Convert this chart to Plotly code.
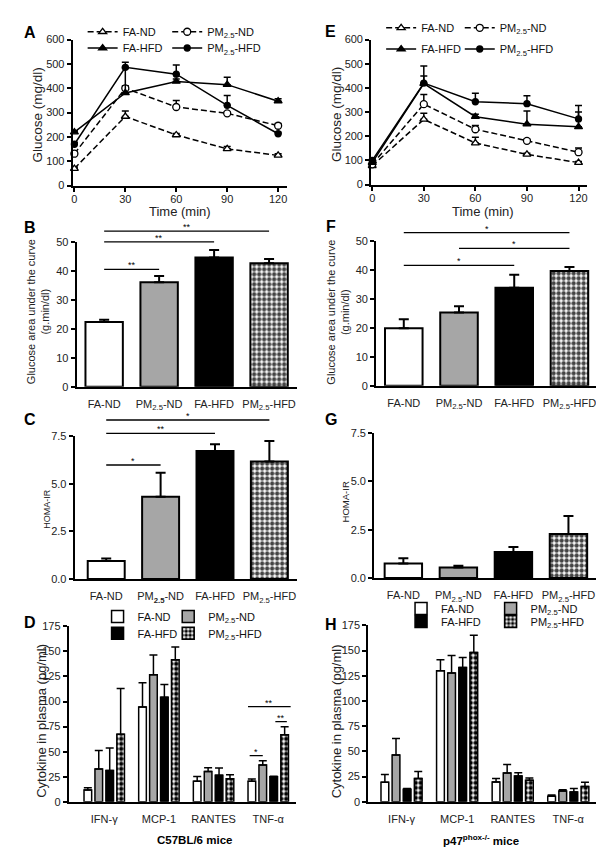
import plotly.graph_objects as go

W, H = 604, 860
FONT = "Liberation Sans, Arial, sans-serif"

# ---------------- data ----------------
times = [0, 30, 60, 90, 120]
groups = ["FA-ND", "PM<sub>2.5</sub>-ND", "FA-HFD", "PM<sub>2.5</sub>-HFD"]
groups_c = ["FA-ND", "PM<sub><b>2.5</b></sub>-ND", "FA-HFD", "PM<sub>2.5</sub>-HFD"]
cytokines = ["IFN-γ", "MCP-1", "RANTES", "TNF-α"]

# A: glucose tolerance, C57BL/6
a_fa_nd = [70, 284, 208, 151, 124]
a_fa_nd_err = [6, 23, 6, 10, 7]
a_pm_nd = [131, 400, 323, 297, 246]
a_pm_nd_err = [8, 10, 27, 5, 9]
a_fa_hfd = [220, 381, 428, 415, 347]
a_fa_hfd_err = [5, 100, 10, 30, 10]
a_pm_hfd = [170, 486, 458, 330, 213]
a_pm_hfd_err = [8, 21, 38, 40, 6]

# E: glucose tolerance, p47phox-/-
e_fa_nd = [78, 270, 172, 125, 91]
e_fa_nd_err = [5, 25, 24, 5, 5]
e_pm_nd = [84, 333, 229, 181, 134]
e_pm_nd_err = [5, 40, 16, 7, 17]
e_fa_hfd = [91, 418, 281, 250, 239]
e_fa_hfd_err = [5, 32, 10, 55, 61]
e_pm_hfd = [100, 420, 343, 335, 272]
e_pm_hfd_err = [6, 71, 35, 33, 55]

# B / F: glucose AUC
b_auc = [22.3, 36.0, 44.6, 42.6]
b_auc_err = [0.8, 2.2, 2.6, 1.5]
f_auc = [19.8, 25.3, 33.8, 39.6]
f_auc_err = [3.1, 2.1, 4.5, 1.4]

# C / G: HOMA-IR
c_homa = [0.95, 4.31, 6.72, 6.17]
c_homa_err = [0.12, 1.26, 0.35, 1.07]
g_homa = [0.75, 0.54, 1.34, 2.28]
g_homa_err = [0.27, 0.09, 0.26, 0.93]

# D / H: plasma cytokines (IFN-g, MCP-1, RANTES, TNF-a)
d_fa_nd = [11.7, 94.5, 20.5, 20.5]
d_fa_nd_err = [2.3, 24.3, 4.8, 2.2]
d_pm_nd = [32.8, 126.6, 30.2, 36.7]
d_pm_nd_err = [18.5, 19.8, 3.9, 4.2]
d_fa_hfd = [31.2, 104.2, 26.6, 25.0]
d_fa_hfd_err = [22.4, 12.7, 7.2, 0.5]
d_pm_hfd = [67.5, 141.6, 23.0, 66.9]
d_pm_hfd_err = [45.5, 12.9, 4.0, 8.1]

h_fa_nd = [19.5, 130.0, 19.8, 5.5]
h_fa_nd_err = [7.5, 10.8, 3.3, 1.3]
h_pm_nd = [46.5, 127.8, 28.6, 10.7]
h_pm_nd_err = [16.3, 17.2, 8.5, 1.3]
h_fa_hfd = [12.4, 133.3, 25.7, 9.8]
h_fa_hfd_err = [0.9, 9.7, 3.2, 3.5]
h_pm_hfd = [23.1, 148.0, 21.5, 15.3]
h_pm_hfd_err = [7.1, 17.2, 2.2, 4.2]

# significance brackets: (from, to, level, label)
b_sig = [(0, 1, 40.5, "**"), (0, 2, 50.0, "**"), (0, 3, 53.7, "**")]
f_sig = [(0, 2, 41.5, "*"), (1, 3, 47.4, "*"), (0, 3, 52.8, "*")]
c_sig = [(0, 1, 5.98, "*"), (0, 2, 7.64, "**"), (0, 3, 8.34, "*")]
# for D: group index, first slot, last slot, level, label
d_sig = [(3, -0.2, 1.0, 46, "*"), (3, 2.15, 3.2, 80, "**"), (3, -0.35, 3.55, 95, "**")]

# ---------------- styling ----------------
bar_colors = ["white", "#a6a6a6", "black", "white"]
bar_patterns = ["", "", "", "."]
SLOT, BAR_W = 0.2, 0.14
CHECK = dict(fgcolor="black", fgopacity=1, size=5, solidity=0.6)


def xdom(left, right):
    return [left / W, right / W]


def ydom(top, bottom):
    return [1 - bottom / H, 1 - top / H]


def ax(**kw):
    base = dict(showline=True, linecolor="black", linewidth=2, ticks="outside",
                ticklen=4, tickwidth=2, tickcolor="black", showgrid=False,
                zeroline=False, fixedrange=True,
                tickfont=dict(size=11, color="#222", family=FONT))
    base.update(kw)
    return base


def cat_ax(labels, rng, **kw):
    return ax(range=rng, tickvals=[0, 1, 2, 3], ticktext=labels,
              tickcolor="rgba(0,0,0,0)", ticklen=6, **kw)


def err(vals, w=4, t=1.5):
    return dict(type="data", symmetric=False, array=vals, arrayminus=[0] * len(vals),
                color="black", thickness=t, width=w)


fig = go.Figure()

# ---------------- line panels A and E ----------------
line_styles = [
    ("FA-ND", "6px,3px", "white", "triangle-up", 7),
    ("PM<sub>2.5</sub>-ND", "6px,3px", "white", "circle", 7),
    ("FA-HFD", "solid", "black", "triangle-up", 7),
    ("PM<sub>2.5</sub>-HFD", "solid", "black", "circle", 6),
]


def line_panel(xa, ya, series, first_legend):
    for k, ((name, dash, fill, sym, size), (vals, e)) in enumerate(zip(line_styles, series)):
        leg = "legend" if first_legend + k == 1 else "legend%d" % (first_legend + k)
        fig.add_trace(go.Scatter(
            x=times, y=vals, mode="lines+markers", name=name,
            line=dict(color="black", width=1.5, dash=dash),
            marker=dict(symbol=sym, size=size, color=fill, line=dict(color="black", width=1.3)),
            error_y=err(e, w=3.5), xaxis=xa, yaxis=ya, legend=leg,
            cliponaxis=False, hoverinfo="skip"))


line_panel("x", "y", [(a_fa_nd, a_fa_nd_err), (a_pm_nd, a_pm_nd_err),
                      (a_fa_hfd, a_fa_hfd_err), (a_pm_hfd, a_pm_hfd_err)], 1)
line_panel("x2", "y2", [(e_fa_nd, e_fa_nd_err), (e_pm_nd, e_pm_nd_err),
                        (e_fa_hfd, e_fa_hfd_err), (e_pm_hfd, e_pm_hfd_err)], 5)


# ---------------- single bar panels B, F, C, G ----------------
def bar_panel(xa, ya, vals, e):
    fig.add_trace(go.Bar(
        x=[0, 1, 2, 3], y=vals, width=0.68, showlegend=False, hoverinfo="skip",
        marker=dict(color=bar_colors, line=dict(color="black", width=2),
                    pattern=dict(shape=bar_patterns, **CHECK)),
        error_y=err(e, w=5, t=2), xaxis=xa, yaxis=ya))


bar_panel("x3", "y3", b_auc, b_auc_err)
bar_panel("x4", "y4", f_auc, f_auc_err)
bar_panel("x5", "y5", c_homa, c_homa_err)
bar_panel("x6", "y6", g_homa, g_homa_err)

# ---------------- grouped cytokine panels D, H ----------------
cyto_names = ["FA-ND", "PM<sub>2.5</sub>-ND", "FA-HFD", "PM<sub>2.5</sub>-HFD"]


def cyto_panel(xa, ya, series, first_legend):
    for k, (vals, e) in enumerate(series):
        fig.add_trace(go.Bar(
            x=[0, 1, 2, 3], y=vals, name=cyto_names[k], width=BAR_W,
            offset=(k - 1.5) * SLOT - BAR_W / 2, hoverinfo="skip",
            marker=dict(color=bar_colors[k], line=dict(color="black", width=1.5),
                        pattern=dict(shape=bar_patterns[k], **CHECK)),
            error_y=err(e, w=4, t=1.5), xaxis=xa, yaxis=ya,
            legend="legend%d" % (first_legend + k)))


cyto_panel("x7", "y7", [(d_fa_nd, d_fa_nd_err), (d_pm_nd, d_pm_nd_err),
                        (d_fa_hfd, d_fa_hfd_err), (d_pm_hfd, d_pm_hfd_err)], 9)
cyto_panel("x8", "y8", [(h_fa_nd, h_fa_nd_err), (h_pm_nd, h_pm_nd_err),
                        (h_fa_hfd, h_fa_hfd_err), (h_pm_hfd, h_pm_hfd_err)], 13)


# ---------------- significance brackets ----------------
def sig_lines(xa, ya, sig):
    xs, ys = [], []
    for x0, x1, lvl, stars in sig:
        xs += [x0, x1, None]
        ys += [lvl, lvl, None]
        fig.add_annotation(x=(x0 + x1) / 2, y=lvl, xref=xa, yref=ya, text=stars,
                           showarrow=False, yanchor="bottom", yshift=-3,
                           font=dict(size=9, color="black", family=FONT))
    fig.add_trace(go.Scatter(x=xs, y=ys, mode="lines", line=dict(color="black", width=1.3),
                             xaxis=xa, yaxis=ya, showlegend=False, hoverinfo="skip"))


sig_lines("x3", "y9", b_sig)
sig_lines("x4", "y10", f_sig)
sig_lines("x5", "y11", c_sig)
sig_lines("x7", "y7", [(g + (s0 - 1.5) * SLOT, g + (s1 - 1.5) * SLOT, lvl, st)
                       for g, s0, s1, lvl, st in d_sig])


def tall(ymax, top, bottom, new_top):
    # invisible axis sharing the panel's scale, extended upwards for brackets
    return dict(domain=ydom(new_top, bottom), range=[0, ymax * (bottom - new_top) / (bottom - top)],
                visible=False, fixedrange=True)


# ---------------- legends ----------------
def legend_box(text_x, row_y):
    return dict(x=(text_x - 47) / W, y=1 - row_y / H, xanchor="left", yanchor="middle",
                bgcolor="rgba(0,0,0,0)", borderwidth=0, orientation="v",
                font=dict(size=11, color="#111", family=FONT),
                itemclick=False, itemdoubleclick=False)


legend_spots = [
    (120, 18), (205, 18), (120, 34.5), (205, 34.5),      # A
    (420, 14), (499, 14), (420, 35.5), (499, 35.5),      # E
    (135, 611), (206, 611), (135, 628), (206, 628),      # D
    (440, 603), (530, 603), (440, 616), (530, 616),      # H
]
legends = {}
for i, (tx, ty) in enumerate(legend_spots):
    legends["legend" if i == 0 else "legend%d" % (i + 1)] = legend_box(tx, ty)


# ---------------- text ----------------
def note(text, x, y, size, angle=0, bold=False, color="black"):
    if bold:
        text = "<b>%s</b>" % text
    fig.add_annotation(x=x / W, y=1 - y / H, xref="paper", yref="paper", text=text,
                       showarrow=False, textangle=angle, xanchor="center", yanchor="middle",
                       font=dict(size=size, color=color, family=FONT))


for letter, lx, ly in [("A", 20, 19), ("E", 322, 17.5), ("B", 20, 217), ("F", 323, 216),
                       ("C", 20, 411), ("G", 323, 411), ("D", 20, 617.5), ("H", 323, 619)]:
    note(letter, lx, ly, 16, bold=True)

TC = "#222"
note("Glucose (mg/dl)", 28, 102, 13.5, -90, color=TC)
note("Glucose (mg/dl)", 328, 102, 13.5, -90, color=TC)
note("Time (min)", 171, 200, 13, color=TC)
note("Time (min)", 475, 200, 13, color=TC)
note("Glucose area under the curve<br>(g.min/dl)", 27.5, 302, 11, -90, color=TC)
note("Glucose area under the curve<br>(g.min/dl)", 329.5, 302, 11, -90, color=TC)
note("HOMA-IR", 37, 502, 9, -90, color=TC)
note("HOMA-IR", 337, 495, 9.5, -90, color=TC)
note("Cytokine in plasma (pg/ml)", 32, 717, 13, -90, color=TC)
note("Cytokine in plasma (pg/ml)", 329, 717, 13, -90, color=TC)
note("C57BL/6 mice", 185, 838, 11.5, bold=True)
note("p47<sup>phox-/-</sup> mice", 473, 838, 11.5, bold=True)

# ---------------- layout ----------------
fig.update_layout(
    width=W, height=H, margin=dict(l=0, r=0, t=0, b=0),
    paper_bgcolor="white", plot_bgcolor="rgba(0,0,0,0)", barmode="overlay",
    font=dict(family=FONT, color="black"), showlegend=True,
    xaxis=ax(domain=xdom(63, 278), range=[-1, 125], tickvals=times, anchor="y",
             ticklabelstandoff=-2),
    yaxis=ax(domain=ydom(26, 174), range=[0, 600], dtick=100, anchor="x"),
    xaxis2=ax(domain=xdom(363, 580), range=[-0.6, 125], tickvals=times, anchor="y2",
              ticklabelstandoff=-2),
    yaxis2=ax(domain=ydom(26, 173), range=[0, 600], dtick=100, anchor="x2"),
    xaxis3=cat_ax(groups, [-0.5, 3.5], domain=xdom(67, 288), anchor="y3"),
    yaxis3=ax(domain=ydom(231, 378), range=[0, 50], dtick=10, anchor="x3"),
    xaxis4=cat_ax(groups, [-0.5, 3.5], domain=xdom(368, 590), anchor="y4"),
    yaxis4=ax(domain=ydom(230, 377), range=[0, 50], dtick=10, anchor="x4"),
    xaxis5=cat_ax(groups_c, [-0.58, 3.5], domain=xdom(65, 288), anchor="y5"),
    yaxis5=ax(domain=ydom(428, 573), range=[0, 7.5], dtick=2.5, tickformat=".1f", anchor="x5"),
    xaxis6=cat_ax(groups, [-0.53, 3.52], domain=xdom(366, 590), anchor="y6"),
    yaxis6=ax(domain=ydom(425, 572), range=[0, 7.5], dtick=2.5, tickformat=".1f", anchor="x6"),
    xaxis7=cat_ax(cytokines, [-0.65, 3.5], domain=xdom(59, 287), anchor="y7"),
    yaxis7=ax(domain=ydom(621, 799), range=[0, 175], dtick=25, anchor="x7"),
    xaxis8=cat_ax(cytokines, [-0.6, 3.5], domain=xdom(360, 589), anchor="y8"),
    yaxis8=ax(domain=ydom(620, 799), range=[0, 175], dtick=25, anchor="x8"),
    yaxis9=dict(anchor="x3", **tall(50, 231, 378, 200)),
    yaxis10=dict(anchor="x4", **tall(50, 230, 377, 200)),
    yaxis11=dict(anchor="x5", **tall(7.5, 428, 573, 395)),
    **legends,
)

fig.write_html("out.html")
